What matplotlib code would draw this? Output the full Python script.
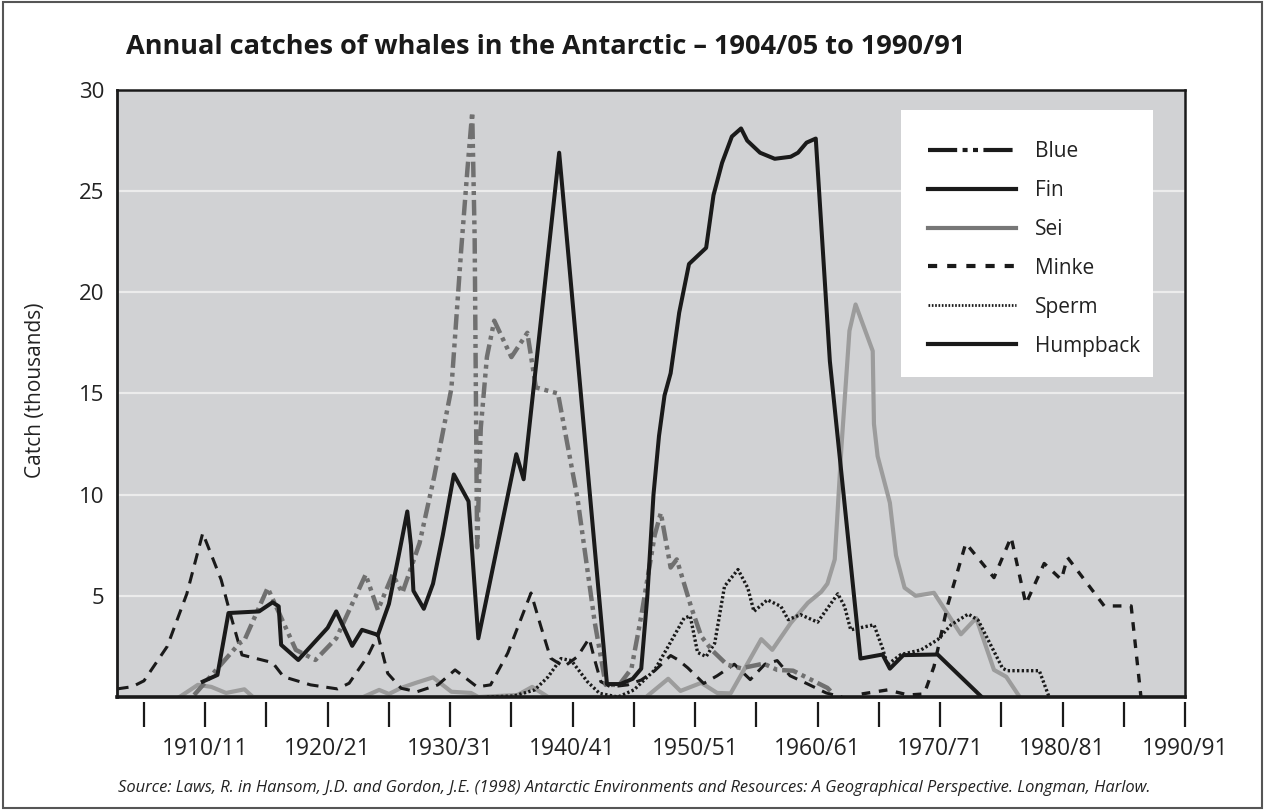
import matplotlib as mpl
mpl.use('Agg')
import matplotlib.pyplot as plt
from matplotlib.lines import Line2D
from matplotlib.patches import Rectangle

plt.rcParams['font.family'] = ['Open Sans', 'DejaVu Sans']

# catch in thousands (x = season start year)
fin_yr = [1909.8, 1911.0, 1911.9, 1914.4, 1915.5, 1916.0, 1916.2, 1917.6, 1920.0, 1920.7,
          1922.0, 1922.8, 1924.1, 1925.0, 1925.8, 1926.5, 1926.8, 1927.0, 1927.85, 1928.6,
          1929.4, 1930.3, 1931.5, 1932.3, 1935.4, 1936.0, 1938.9, 1942.8, 1943.9, 1944.9,
          1945.6, 1946.1, 1946.6, 1947.05, 1947.5, 1948.0, 1948.7, 1949.5, 1950.9, 1951.5,
          1952.2, 1953.0, 1953.75, 1954.25, 1955.3, 1956.5, 1957.8, 1958.4, 1959.1, 1959.85,
          1961.0, 1963.5, 1965.3, 1965.9, 1967.0, 1969.8, 1973.4]
fin = [0.76, 1.09, 4.15, 4.23, 4.68, 4.48, 2.58, 1.83, 3.42, 4.23,
       2.53, 3.32, 3.07, 4.6, 7.0, 9.17, 7.5, 5.25, 4.36, 5.6,
       8.0, 11.0, 9.67, 2.9, 12.0, 10.76, 26.9, 0.64, 0.64, 0.9,
       1.4, 5.0, 10.0, 12.9, 14.9, 16.0, 19.0, 21.4, 22.2, 24.8,
       26.4, 27.7, 28.1, 27.5, 26.9, 26.6, 26.7, 26.9, 27.4, 27.6,
       16.6, 1.9, 2.1, 1.4, 2.07, 2.1, 0.0]

blue_yr = [1909.1, 1910.9, 1912.8, 1913.2, 1915.1, 1917.4, 1919.0, 1920.7, 1923.1, 1924.1,
           1925.3, 1926.1, 1927.5, 1928.7, 1930.1, 1930.9, 1931.4, 1931.8, 1932.0, 1932.2,
           1932.5, 1933.0, 1933.6, 1935.0, 1936.3, 1937.0, 1938.8, 1940.4, 1941.8, 1942.7,
           1943.8, 1944.8, 1945.6, 1946.7, 1947.2, 1948.0, 1948.5, 1949.7, 1950.5, 1951.4,
           1952.6, 1953.75, 1955.6, 1956.7, 1958.0, 1960.8, 1961.2]
blue = [0.1, 1.34, 2.66, 2.8, 5.39, 2.33, 1.83, 2.9, 6.05, 4.3,
        6.05, 5.15, 7.6, 10.9, 15.25, 22.1, 26.0, 28.9, 22.7, 7.4,
        13.3, 16.8, 18.6, 16.8, 18.0, 15.3, 15.0, 9.8, 3.7, 0.6,
        0.6, 1.4, 4.0, 8.0, 9.1, 6.4, 6.8, 4.4, 3.0, 2.3,
        1.6, 1.42, 1.65, 1.34, 1.3, 0.45, 0.2]

sei_yr = [1907.9, 1909.4, 1910.5, 1911.7, 1913.2, 1913.9, 1922.9, 1924.2, 1925.0, 1926.0,
          1927.2, 1928.6, 1930.1, 1931.7, 1932.3, 1935.5, 1936.7, 1938.0, 1946.0, 1947.8,
          1948.8, 1950.5, 1951.8, 1952.9, 1955.4, 1956.3, 1957.8, 1959.2, 1960.3, 1960.8,
          1961.4, 1961.95, 1962.6, 1963.1, 1964.5, 1964.6, 1964.9, 1965.9, 1966.4, 1967.1,
          1968.0, 1969.5, 1971.7, 1972.95, 1974.4, 1975.4, 1976.5]
sei = [0.0, 0.6, 0.5, 0.2, 0.38, 0.0, 0.0, 0.35, 0.15, 0.45,
       0.7, 0.97, 0.26, 0.2, 0.0, 0.1, 0.5, 0.0, 0.0, 0.9,
       0.3, 0.7, 0.2, 0.18, 2.86, 2.33, 3.65, 4.65, 5.2, 5.6,
       6.8, 12.4, 18.1, 19.4, 17.1, 13.5, 11.9, 9.6, 7.0, 5.4,
       5.0, 5.15, 3.1, 3.9, 1.34, 1.0, 0.0]

minke_yr = [1963.6, 1965.7, 1967.4, 1968.7, 1969.5, 1970.6, 1972.1, 1974.4, 1975.8, 1977.0,
            1978.5, 1979.9, 1980.4, 1983.4, 1985.6, 1986.4]
minke = [0.15, 0.35, 0.1, 0.15, 1.5, 4.5, 7.6, 5.9, 7.9, 4.6,
         6.6, 5.8, 6.9, 4.5, 4.5, 0.0]

sperm_yr = [1933.0, 1935.2, 1936.9, 1938.0, 1939.05, 1939.9, 1941.2, 1942.2, 1943.7, 1945.0,
            1946.7, 1947.8, 1949.1, 1949.6, 1950.2, 1950.9, 1951.6, 1952.4, 1953.5, 1954.3,
            1954.8, 1955.9, 1957.0, 1957.6, 1958.6, 1960.0, 1961.65, 1962.2, 1962.7, 1964.6,
            1965.3, 1965.7, 1966.8, 1968.45, 1969.8, 1970.9, 1972.3, 1973.1, 1975.1, 1975.5,
            1978.1, 1978.9]
sperm = [0.0, 0.05, 0.35, 1.0, 1.9, 1.8, 0.76, 0.18, 0.0, 0.35,
         1.34, 2.5, 3.9, 4.0, 2.2, 2.0, 2.66, 5.47, 6.3, 5.39,
         4.23, 4.8, 4.48, 3.82, 4.07, 3.7, 5.1, 4.48, 3.32, 3.57,
         2.41, 1.6, 2.1, 2.33, 2.83, 3.57, 4.1, 3.8, 1.42, 1.3,
         1.3, 0.0]

humpback_yr = [1902.8, 1904.05, 1905.0, 1906.9, 1908.5, 1909.8, 1911.3, 1912.1, 1913.0, 1915.5,
               1916.4, 1918.6, 1920.8, 1921.75, 1923.25, 1924.1, 1924.9, 1926.0, 1927.3, 1929.0,
               1930.4, 1932.2, 1933.3, 1934.7, 1936.6, 1937.4, 1938.2, 1939.3, 1940.4, 1941.35,
               1941.8, 1942.3, 1943.1, 1944.5, 1945.6, 1946.7, 1948.0, 1948.6, 1949.4, 1950.7,
               1951.8, 1953.2, 1954.5, 1955.7, 1956.7, 1957.75, 1959.1, 1960.7, 1962.0]
humpback = [0.4, 0.51, 0.8, 2.5, 5.1, 8.1, 5.8, 4.0, 2.08, 1.7,
            1.0, 0.6, 0.4, 0.68, 2.0, 3.05, 1.17, 0.43, 0.26, 0.6,
            1.34, 0.5, 0.6, 2.17, 5.14, 3.5, 1.92, 1.5, 2.0, 2.9,
            1.84, 0.76, 0.5, 0.6, 0.84, 1.3, 2.05, 1.84, 1.44, 0.67,
            1.05, 1.62, 0.86, 1.62, 1.8, 1.05, 0.67, 0.2, 0.0]

species = ['Blue', 'Fin', 'Sei', 'Minke', 'Sperm', 'Humpback']
major_years = list(range(1910, 1991, 10))
major_labels = ['%d/%02d' % (y, (y + 1) % 100) for y in major_years]
minor_years = list(range(1905, 1990, 10))

fig = plt.figure(figsize=(12.65, 8.1), dpi=100)
fig.patches.append(Rectangle((0.002, 0.003), 0.996, 0.994, transform=fig.transFigure,
                             fill=False, ec='#555555', lw=1.5))
ax = fig.add_axes([0.0925, 0.1395, 0.8443, 0.7494])
ax.set_facecolor('#d1d2d4')

ax.plot(sei_yr, sei, color='#9c9c9c', lw=3.0, solid_joinstyle='round', zorder=2)
ax.plot(sperm_yr, sperm, color='#1a1a1a', lw=2.4, dashes=(0.7, 0.7), zorder=2.1)
ax.plot(humpback_yr, humpback, color='#1a1a1a', lw=2.2, dashes=(3.8, 2.6), zorder=2.2)
ax.plot(minke_yr, minke, color='#1a1a1a', lw=2.4, dashes=(2.6, 2.6), zorder=2.2)
ax.plot(blue_yr, blue, color='#707070', lw=3.2, dashes=(3.5, 1.1, 0.9, 1.1, 0.9, 1.1),
        zorder=2.3)
ax.plot(fin_yr, fin, color='#1a1a1a', lw=2.9, solid_joinstyle='round', zorder=2.4)

ax.set_xlim(1902.8, 1990)
ax.set_ylim(0, 30)
ax.set_yticks([5, 10, 15, 20, 25, 30])
ax.tick_params(axis='y', length=0, labelsize=16, pad=9, labelcolor='#222222')
ax.set_xticks([])
ax.yaxis.grid(True, color='#ececec', lw=1.6)
ax.set_axisbelow(True)
for side, w in [('left', 2.0), ('bottom', 2.6), ('top', 1.8), ('right', 1.8)]:
    ax.spines[side].set_linewidth(w)
    ax.spines[side].set_color('#1a1a1a')

# tick marks sit a little below the axis line
sec = ax.secondary_xaxis(-0.009)
for s in sec.spines.values():
    s.set_visible(False)
sec.set_xticks(major_years, labels=major_labels)
sec.set_xticks(minor_years, minor=True)
sec.tick_params(which='both', direction='out', length=18, width=1.6, color='#1a1a1a',
                labelsize=16.5, pad=7, labelcolor='#222222')

# legend in a white box
ax.add_patch(Rectangle((0.7341, 0.5272), 0.236, 0.4399, transform=ax.transAxes,
                       fc='white', ec='none', zorder=5))
handles = [
    Line2D([], [], color='#1a1a1a', lw=3, dashes=(7, 1.3, 1.2, 1.3, 1.2, 1.3)),
    Line2D([], [], color='#1a1a1a', lw=3),
    Line2D([], [], color='#777777', lw=3),
    Line2D([], [], color='#1a1a1a', lw=3, dashes=(2.2, 2.4)),
    Line2D([], [], color='#1a1a1a', lw=2, dashes=(0.6, 0.6)),
    Line2D([], [], color='#1a1a1a', lw=3),
]
leg = ax.legend(handles, species, loc='upper left', bbox_to_anchor=(0.7594, 0.916),
                frameon=False, fontsize=15, handlelength=4.2, handletextpad=0.95,
                labelspacing=0.86, borderpad=0, borderaxespad=0)
leg.set_zorder(6)
for t in leg.get_texts():
    t.set_color('#222222')

fig.text(0.4316, 0.942, 'Annual catches of whales in the Antarctic \u2013 1904/05 to 1990/91',
         ha='center', va='center', fontsize=19.5, fontweight='bold', color='#1a1a1a')
fig.text(0.028, 0.5185, 'Catch (thousands)', rotation=90, ha='center', va='center',
         fontsize=15, color='#222222')
fig.text(0.0933, 0.027, 'Source: Laws, R. in Hansom, J.D. and Gordon, J.E. (1998) Antarctic '
         'Environments and Resources: A Geographical Perspective. Longman, Harlow.',
         ha='left', va='center', fontsize=11.9, style='italic', color='#222222')

fig.savefig('out.png', dpi=100)
